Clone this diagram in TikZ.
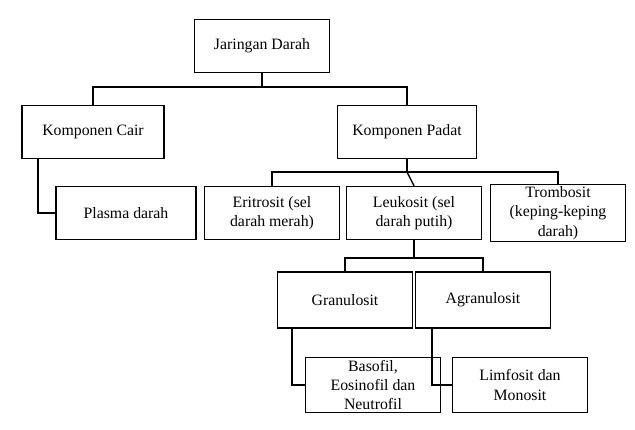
\documentclass[tikz,border=0pt]{standalone}
\usepackage{fontspec}
\setmainfont{Liberation Serif}
\begin{document}
\begin{tikzpicture}[x=0.02cm,y=-0.02cm,
  box/.style={draw,line width=0.8pt,minimum width=2.7cm,minimum height=1.06cm,align=center,font=\fontsize{9}{11}\selectfont,inner sep=1pt},
  ln/.style={line width=0.8pt}]
\useasboundingbox (0,0) rectangle (635,429);
\node[box] (jd) at (262,46) {Jaringan Darah};
\node[box,minimum width=2.84cm] (kc) at (93,132) {Komponen Cair};
\node[box,minimum width=2.78cm] (kp) at (407,132) {Komponen Padat};
\node[box,minimum width=2.8cm] (pl) at (126,213) {Plasma darah};
\node[box] (er) at (272,213) {Eritrosit (sel\\darah merah)};
\node[box] (le) at (414,213) {Leukosit (sel\\darah putih)};
\node[box] (tr) at (558,213) {Trombosit\\(keping-keping\\darah)};
\node[box,minimum height=1.12cm] (gr) at (345,300) {Granulosit};
\node[box,minimum height=1.12cm] (ag) at (483,300) {Agranulosit};
\node[box,minimum height=1.1cm] (ba) at (373,385) {Basofil,\\Eosinofil dan\\Neutrofil};
\node[box,minimum height=1.1cm] (li) at (520,385) {Limfosit dan\\Monosit};
\draw[ln] (jd.south) -- (262,87) coordinate (j1);
\draw[ln] (kc.north) |- (j1) -| (kp.north);
\draw[ln] (kp.south) -- (407,172) coordinate (p1);
\draw[ln] (er.north) |- (p1) -| (tr.north);
\draw[ln] (p1) -- (le.north);
\draw[ln] (le.south) -- (414,258) coordinate (l1);
\draw[ln] (gr.north) |- (l1) -| (ag.north);
\draw[ln] (kc.south -| 38,0) |- (pl.west);
\draw[ln] (gr.south -| 292,0) |- (ba.west);
\draw[ln] (ag.south -| 432,0) |- (li.west);
\end{tikzpicture}
\end{document}
